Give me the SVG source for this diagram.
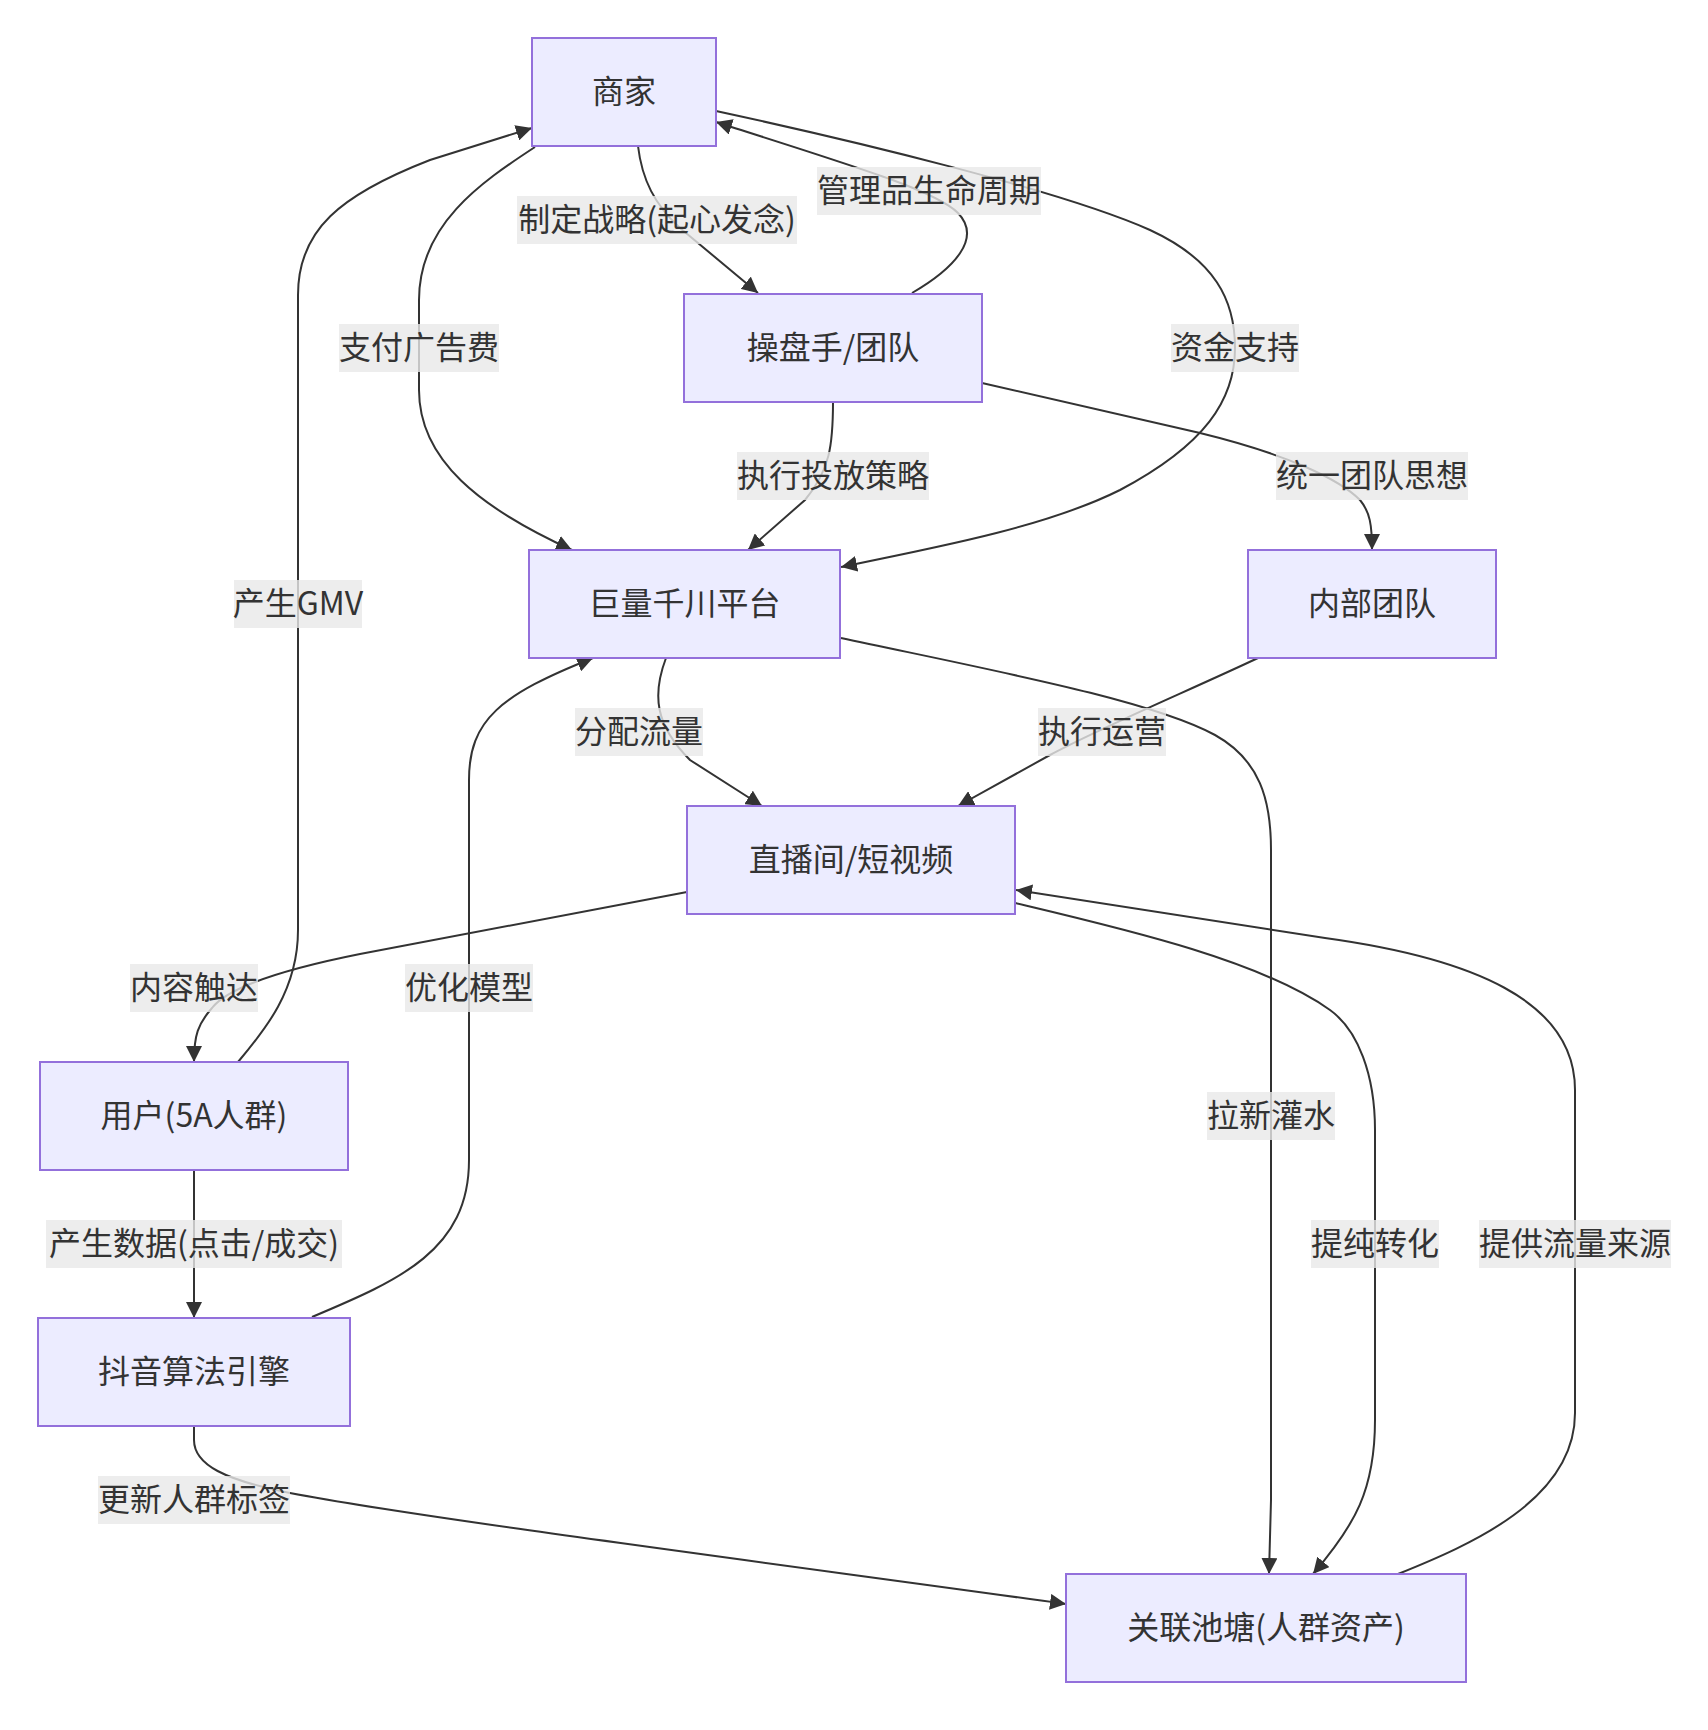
<svg xmlns="http://www.w3.org/2000/svg" width="1708" height="1730" viewBox="0 0 1708 1730">
<style>
.node rect{fill:#ECECFF;stroke:#9370DB;stroke-width:2}
text{font-family:"Noto Sans CJK SC","Liberation Sans",sans-serif;font-size:32px;fill:#333333;text-anchor:middle;dominant-baseline:central}
.edge{fill:none;stroke:#333333;stroke-width:2;marker-end:url(#arrow)}
.lbl rect{fill:#e8e8e8;fill-opacity:0.8}
</style>
<defs>
<marker id="arrow" viewBox="0 0 10 10" refX="10" refY="5" markerUnits="userSpaceOnUse" markerWidth="16" markerHeight="16" orient="auto">
<path d="M0,0 L10,5 L0,10 z" fill="#333333"/>
</marker>
</defs>
<rect x="0" y="0" width="1708" height="1730" fill="#ffffff"/>
<g id="connectors">
<path class="edge" d="M638,146 C642,180 655,205 680,228 L758,293"/>
<path class="edge" d="M912,293 C955,268 982,238 958,213 C935,190 850,165 716,122"/>
<path class="edge" d="M535,147 C480,183 419,225 419,300 L419,390 C419,460 480,508 572,550"/>
<path class="edge" d="M716,111 C850,140 1060,190 1150,230 C1215,260 1235,300 1235,348 C1235,400 1205,445 1120,490 C1050,525 950,545 841,567"/>
<path class="edge" d="M833,402 C833,445 830,470 805,500 L748,550"/>
<path class="edge" d="M982,383 L1200,433 C1290,455 1340,480 1360,500 C1370,512 1372,525 1372,550"/>
<path class="edge" d="M666,658 C652,695 655,725 690,760 L762,806"/>
<path class="edge" d="M1258,658 C1190,690 1100,728 1050,755 L958,806"/>
<path class="edge" d="M841,638 C1000,672 1150,700 1215,735 C1260,760 1271,800 1271,850 L1271,1500 L1269,1574"/>
<path class="edge" d="M687,892 L360,954 C290,968 230,985 212,1008 C198,1024 194,1035 194,1062"/>
<path class="edge" d="M238,1062 C265,1030 298,990 298,930 L298,295 C298,230 340,195 430,160 L532,128"/>
<path class="edge" d="M194,1170 L194,1318"/>
<path class="edge" d="M312,1317 C400,1280 469,1250 469,1160 L469,780 C469,720 500,695 593,658"/>
<path class="edge" d="M194,1426 L194,1440 C194,1465 225,1480 290,1493 C420,1518 800,1567 1066,1604"/>
<path class="edge" d="M1015,903 C1120,928 1260,960 1330,1010 C1358,1030 1375,1075 1375,1130 L1375,1420 C1375,1490 1355,1525 1313,1574"/>
<path class="edge" d="M1398,1574 C1470,1545 1575,1500 1575,1413 L1575,1090 C1575,1000 1470,958 1325,938 L1016,890"/>
</g>
<g id="edge-labels">
<g class="lbl"><rect x="517" y="196" width="280" height="48"/><text x="657" y="217">制定战略(起心发念)</text></g>
<g class="lbl"><rect x="817" y="167" width="224" height="48"/><text x="929" y="188">管理品生命周期</text></g>
<g class="lbl"><rect x="339" y="324" width="160" height="48"/><text x="419" y="345">支付广告费</text></g>
<g class="lbl"><rect x="1171" y="324" width="128" height="48"/><text x="1235" y="345">资金支持</text></g>
<g class="lbl"><rect x="737" y="452" width="192" height="48"/><text x="833" y="473">执行投放策略</text></g>
<g class="lbl"><rect x="1276" y="452" width="192" height="48"/><text x="1372" y="473">统一团队思想</text></g>
<g class="lbl"><rect x="575" y="708" width="128" height="48"/><text x="639" y="729">分配流量</text></g>
<g class="lbl"><rect x="1038" y="708" width="128" height="48"/><text x="1102" y="729">执行运营</text></g>
<g class="lbl"><rect x="1207" y="1092" width="128" height="48"/><text x="1271" y="1113">拉新灌水</text></g>
<g class="lbl"><rect x="130" y="964" width="128" height="48"/><text x="194" y="985">内容触达</text></g>
<g class="lbl"><rect x="234" y="580" width="128" height="48"/><text x="298" y="601">产生GMV</text></g>
<g class="lbl"><rect x="46" y="1220" width="296" height="48"/><text x="194" y="1241">产生数据(点击/成交)</text></g>
<g class="lbl"><rect x="405" y="964" width="128" height="48"/><text x="469" y="985">优化模型</text></g>
<g class="lbl"><rect x="98" y="1476" width="192" height="48"/><text x="194" y="1497">更新人群标签</text></g>
<g class="lbl"><rect x="1311" y="1220" width="128" height="48"/><text x="1375" y="1241">提纯转化</text></g>
<g class="lbl"><rect x="1479" y="1220" width="192" height="48"/><text x="1575" y="1241">提供流量来源</text></g>
</g>
<g id="node-merchant" class="node"><rect x="532" y="38" width="184" height="108"/><text x="624" y="89">商家</text></g>
<g id="node-operator" class="node"><rect x="684" y="294" width="298" height="108"/><text x="833" y="345">操盘手/团队</text></g>
<g id="node-qianchuan" class="node"><rect x="529" y="550" width="311" height="108"/><text x="684.5" y="601">巨量千川平台</text></g>
<g id="node-internal" class="node"><rect x="1248" y="550" width="248" height="108"/><text x="1372" y="601">内部团队</text></g>
<g id="node-live" class="node"><rect x="687" y="806" width="328" height="108"/><text x="851" y="857">直播间/短视频</text></g>
<g id="node-user" class="node"><rect x="40" y="1062" width="308" height="108"/><text x="194" y="1113">用户(5A人群)</text></g>
<g id="node-algo" class="node"><rect x="38" y="1318" width="312" height="108"/><text x="194" y="1369">抖音算法引擎</text></g>
<g id="node-pond" class="node"><rect x="1066" y="1574" width="400" height="108"/><text x="1266" y="1625">关联池塘(人群资产)</text></g>
</svg>
